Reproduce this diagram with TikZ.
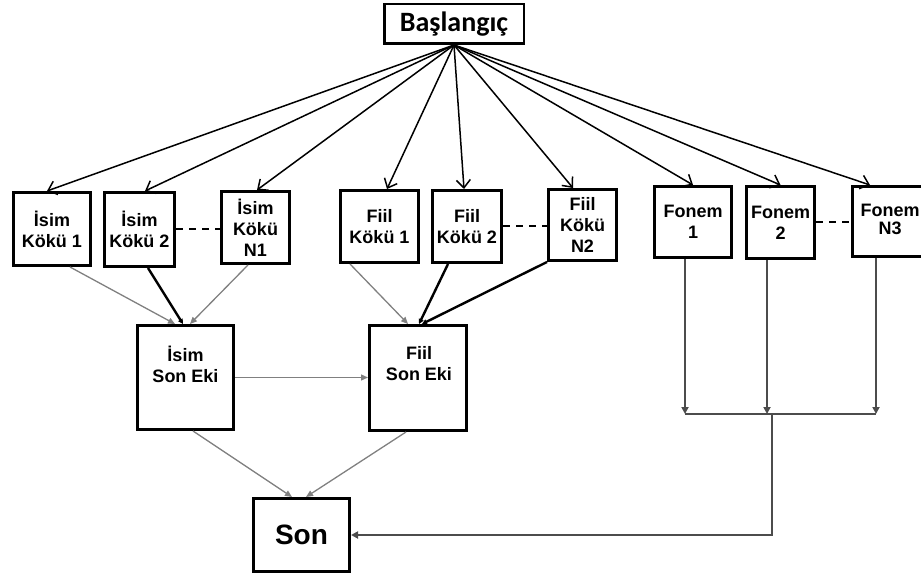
\documentclass[tikz,border=0pt]{standalone}
\usepackage{fontspec}
\setmainfont{Liberation Sans}
\newfontfamily\titlefont{Carlito}
\usetikzlibrary{arrows.meta,calc}

\begin{document}
\begin{tikzpicture}[x=1pt,y=-1pt,
  box/.style={draw, line width=3pt, fill=white, inner sep=0pt, align=center,
    font=\bfseries\fontsize{18}{21}\selectfont},
  boxtext/.style={inner sep=0pt, align=center, font=\bfseries\fontsize{18}{21}\selectfont},
  toparrow/.style={line width=1.5pt, -{Straight Barb[length=8pt,width=14pt]}},
  thinarrow/.style={draw=gray, line width=1.3pt, -{Triangle[length=7pt,width=6pt]}},
  thickarrow/.style={draw=black, line width=2.4pt, -{Triangle[length=5pt,width=5pt]}},
  busline/.style={draw=black!70, line width=1.8pt},
  busarrow/.style={busline, -{Triangle[length=7pt,width=7pt]}},
  dotsline/.style={line width=2pt, dash pattern=on 7pt off 6pt}
]
\useasboundingbox (0,0) rectangle (921,580);
\clip (0,0) rectangle (921,580);

% start node
\node[draw, line width=2.5pt, fill=white, inner sep=0pt, minimum width=139.5, minimum height=39.5,
      font=\titlefont\bfseries\fontsize{28}{30}\selectfont] (start) at (454,24) {Başlangıç};

% noun roots
\node[box, minimum width=77, minimum height=73] (ik1) at (52,229) {İsim\\Kökü 1};
\node[box, minimum width=70, minimum height=74] (ik2) at (139.5,229.5) {İsim\\Kökü 2};
\node[box, minimum width=68, minimum height=72] (ikn) at (255.5,227.5) {İsim\\Kökü\\N1};

% verb roots
\node[box, minimum width=78, minimum height=72] (fk1) at (379.5,226.5) {Fiil\\Kökü 1};
\node[box, minimum width=69, minimum height=72] (fk2) at (467,226.5) {Fiil\\Kökü 2};
\node[box, minimum width=68, minimum height=71] (fkn) at (582.5,225) {Fiil\\Kökü\\N2};

% phonemes
\node[box, minimum width=77, minimum height=71] (fo1) at (693,222) {Fonem\\1};
\node[box, minimum width=68, minimum height=72] (fo2) at (780.5,222.5) {Fonem\\2};
\node[box, minimum width=75, minimum height=70] (fon) at (890,221.5) {\raisebox{5pt}{\begin{tabular}{@{}c@{}}Fonem\\[-3pt]N3\end{tabular}}};

% suffix boxes
\node[box, minimum width=96, minimum height=104] (ise) at (185.5,377.5) {};
\node[boxtext] (ise-t) at (185.5,364) {İsim\\Son Eki};
\node[box, minimum width=97, minimum height=105] (fse) at (418,378) {};
\node[boxtext] (fse-t) at (419,364) {Fiil\\Son Eki};

% end node
\node[box, minimum width=96, minimum height=73, font=\bfseries\fontsize{28}{30}\selectfont] (son) at (301.5,535) {Son};

% dashed "..." links between first and last members
\draw[dotsline] (ik2.east) -- (ik2.east -| ikn.west);
\draw[dotsline] (fk2.east) -- (fk2.east -| fkn.west);
\draw[dotsline] (fo2.east) -- (fo2.east -| fon.west);

% fan-out from the start node
\foreach \n/\dx in {ik1/-5, ik2/5.5, ikn/1.5, fk1/7.5, fk2/-3, fkn/-9.5, fo1/0, fo2/0, fon/-20}
  \draw[toparrow] (start.south) -- ([xshift=\dx]\n.north);

% roots into suffixes
\draw[thinarrow] ([xshift=18]ik1.south) -- ([xshift=-10.5]ise.north);
\draw[thickarrow] ([xshift=8.5]ik2.south) -- ([xshift=-2.5]ise.north);
\draw[thinarrow] ([xshift=-7.5]ikn.south) -- ([xshift=4.5]ise.north);
\draw[thinarrow] ([xshift=-29.5]fk1.south) -- ([xshift=-10]fse.north);
\draw[thickarrow] ([xshift=-19]fk2.south) -- ([xshift=1]fse.north);
\draw[thickarrow] (fkn.south west) -- ([xshift=4]fse.north);

% suffix to suffix, suffixes to end
\draw[thinarrow] (ise.east) -- (ise.east -| fse.west);
\draw[thinarrow] ([xshift=7.5]ise.south) -- ([xshift=-9.5]son.north);
\draw[thinarrow] ([xshift=-12]fse.south) -- ([xshift=4.5]son.north);

% phoneme bus
\coordinate (d1) at ([xshift=-8]fo1.south);
\coordinate (d2) at ([xshift=-13.5]fo2.south);
\coordinate (d3) at ([xshift=-14]fon.south);
\coordinate (bus) at (772,414);
\draw[busline] (d1 |- bus) -- (d3 |- bus);
\foreach \d in {d1,d2,d3}
  \draw[busarrow] (\d) -- (\d |- bus);
\draw[busarrow] (bus) |- (son.east);
\end{tikzpicture}
\end{document}
